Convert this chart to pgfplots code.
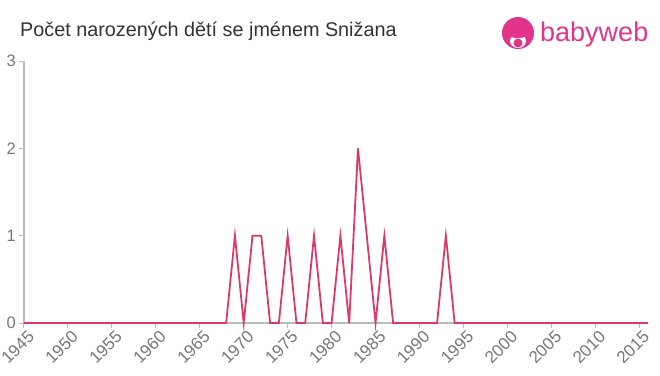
\documentclass[border=0pt]{standalone}
\usepackage{pgfplots}
\pgfplotsset{compat=1.18}
\usepackage{fontspec}
\setmainfont{Liberation Sans}
\definecolor{linec}{RGB}{221,56,106}
\definecolor{axc}{RGB}{187,187,187}
\definecolor{tickc}{RGB}{119,119,119}
\definecolor{titlec}{RGB}{51,51,51}
\definecolor{logoc}{RGB}{225,52,138}
\begin{document}
\begin{tikzpicture}[x=1pt,y=1pt]
\begin{axis}[
  at={(0,0)}, anchor=origin,
  scale only axis, width=624pt, height=262pt,
  xmin=1945, xmax=2016, ymin=0, ymax=3,
  axis x line*=bottom, axis y line*=left,
  axis line style={draw=axc, line width=1.4pt, -},
  xtick={1945,1950,...,2015}, ytick={0,1,2,3},
  tick style={draw=axc, line width=1pt},
  major tick length=5pt,
  tick align=outside,
  /pgf/number format/1000 sep={},
  /pgf/number format/assume math mode=true,
  xticklabel style={rotate=45, anchor=north east, font=\fontsize{17}{17}\selectfont, text=tickc, inner sep=0pt, xshift=1pt, yshift=-3pt},
  yticklabel style={font=\fontsize{16.5}{16.5}\selectfont, text=tickc, inner sep=2pt, xshift=-1pt},
  clip=false,
]
\addplot[color=linec, line width=1.8pt, mark=none] coordinates {
(1945,0)(1946,0)(1947,0)(1948,0)(1949,0)(1950,0)(1951,0)(1952,0)(1953,0)(1954,0)
(1955,0)(1956,0)(1957,0)(1958,0)(1959,0)(1960,0)(1961,0)(1962,0)(1963,0)(1964,0)
(1965,0)(1966,0)(1967,0)(1968,0)(1969,1)(1970,0)(1971,1)(1972,1)(1973,0)(1974,0)
(1975,1)(1976,0)(1977,0)(1978,1)(1979,0)(1980,0)(1981,1)(1982,0)(1983,2)(1984,1)
(1985,0)(1986,1)(1987,0)(1988,0)(1989,0)(1990,0)(1991,0)(1992,0)(1993,1)(1994,0)
(1995,0)(1996,0)(1997,0)(1998,0)(1999,0)(2000,0)(2001,0)(2002,0)(2003,0)(2004,0)
(2005,0)(2006,0)(2007,0)(2008,0)(2009,0)(2010,0)(2011,0)(2012,0)(2013,0)(2014,0)
(2015,0)(2016,0)
};
\end{axis}
\node[anchor=base west, inner sep=0pt, text=titlec, font=\fontsize{19.8}{19.8}\selectfont] at (-4,286) {Počet narozených dětí se jménem Snižana};
\fill[logoc] (494,290) circle (16);
\fill[white] (494,282) ellipse (8 and 7);
\fill[logoc] (494,280) circle (4.5);
\fill[logoc] (494,288) ellipse (9 and 3);
\node[anchor=base west, inner sep=0pt, text=logoc, font=\fontsize{27}{27}\selectfont] at (516,281) {babyweb};
\pgfresetboundingbox
\path (-24,-52) rectangle (636,323);
\end{tikzpicture}
\end{document}
